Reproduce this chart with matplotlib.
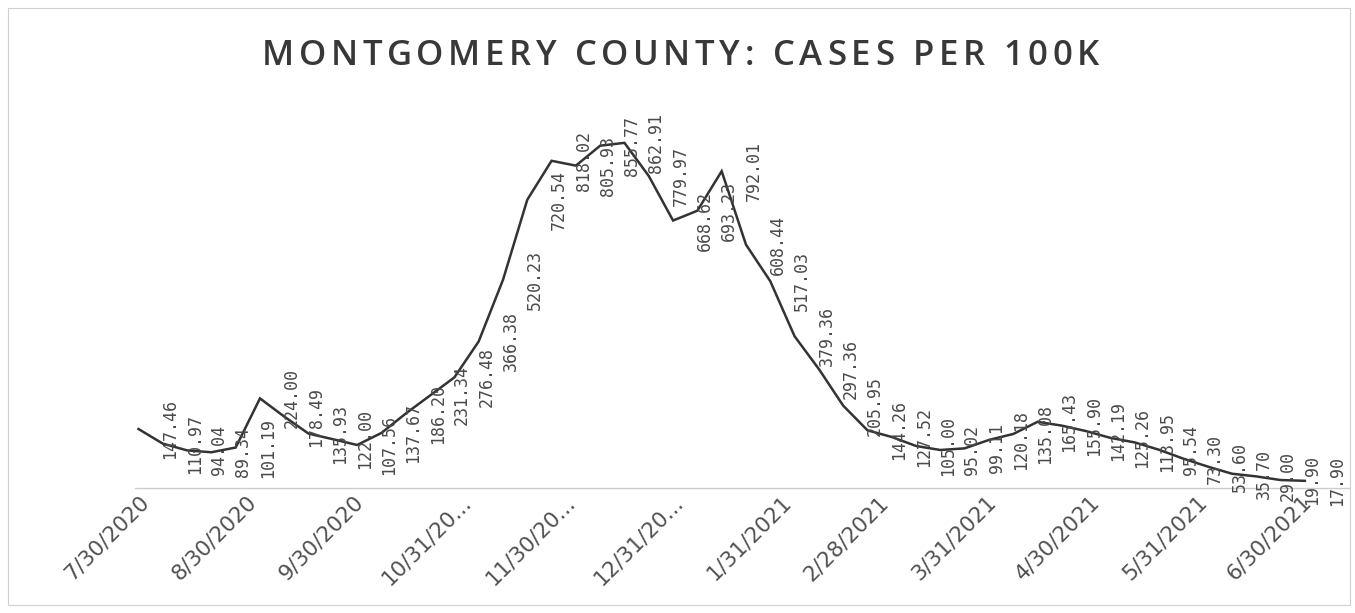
import matplotlib
matplotlib.use("Agg")
import matplotlib.pyplot as plt
import pandas as pd

# weekly cases per 100k
cases = [
    147.46, 110.97, 94.04, 89.34, 101.19, 224.00, 178.49, 135.93, 122.00, 107.56,
    137.67, 186.20, 231.34, 276.48, 366.38, 520.23, 720.54, 818.02, 805.93, 855.77,
    862.91, 779.97, 668.62, 693.23, 792.01, 608.44, 517.03, 379.36, 297.36, 205.95,
    144.26, 127.52, 105.00, 95.02, 99.11, 120.18, 135.08, 165.43, 155.90, 142.19,
    125.26, 113.95, 95.54, 73.30, 53.60, 35.70, 29.00, 19.90, 17.90,
]
first_week = "2020-07-30"
weeks = pd.date_range(first_week, periods=len(cases), freq="7D")

tick_dates = ["2020-07-30", "2020-08-30", "2020-09-30", "2020-10-31", "2020-11-30",
              "2020-12-31", "2021-01-31", "2021-02-28", "2021-03-31", "2021-04-30",
              "2021-05-31", "2021-06-30"]
tick_labels = ["7/30/2020", "8/30/2020", "9/30/2020", "10/31/20...", "11/30/20...",
               "12/31/20...", "1/31/2021", "2/28/2021", "3/31/2021", "4/30/2021",
               "5/31/2021", "6/30/2021"]
title = "MONTGOMERY COUNTY: CASES PER 100K"

W, H = 1355, 613
fig = plt.figure(figsize=(W / 100, H / 100), dpi=100)
ax = fig.add_axes([135 / W, 1 - 488 / H, 1215 / W, 400 / H])

ax.plot(weeks, cases, color="#333333", linewidth=1.8, solid_joinstyle="miter")

for d, v in zip(weeks, cases):
    ax.annotate(f"{v:.2f}", (d, v), xytext=(23, 0), textcoords="offset points",
                rotation=90, ha="center", va="center", fontsize=12,
                family="DejaVu Sans Mono", color="#4a4a4a")

ax.set_ylim(0, 1000)
ax.set_xlim(pd.Timestamp("2020-07-29"), pd.Timestamp("2021-07-14"))
ax.set_xticks(pd.to_datetime(tick_dates))
ax.set_xticklabels(tick_labels, rotation=45, ha="right", va="top",
                   rotation_mode="anchor", fontsize=15.5, color="#505050")
ax.tick_params(axis="x", length=0, pad=3)
ax.set_yticks([])
for side in ["top", "right", "left"]:
    ax.spines[side].set_visible(False)
ax.spines["bottom"].set_color("#cccccc")
ax.spines["bottom"].set_linestyle((0, (4, 1)))
ax.spines["bottom"].set_linewidth(1.0)
ax.patch.set_alpha(0)

# title with wide letter spacing, placed char by char
renderer = fig.canvas.get_renderer()
tkw = dict(fontsize=25, color="#383838", family="Open Sans", weight="semibold",
           va="center", ha="left")


def text_width(s):
    t = fig.text(0, 0, s, **tkw)
    w = t.get_window_extent(renderer).width
    t.remove()
    return w


full_w = text_width(title)
left, right = 262, 1099
gap = (right - left - full_w) / (len(title) - 1)
for i, ch in enumerate(title):
    x = left + text_width(title[:i].replace(" ", "\u00a0")) + i * gap if i else left
    fig.text(x / W, 1 - 56 / H, ch, **tkw)

# chart area border
fig.patches.append(plt.Rectangle((8 / W, 8 / H), 1342 / W, 597 / H,
                                 transform=fig.transFigure, fill=False,
                                 edgecolor="#d0d0d0", linewidth=0.8))

fig.savefig("out.png", dpi=100)
